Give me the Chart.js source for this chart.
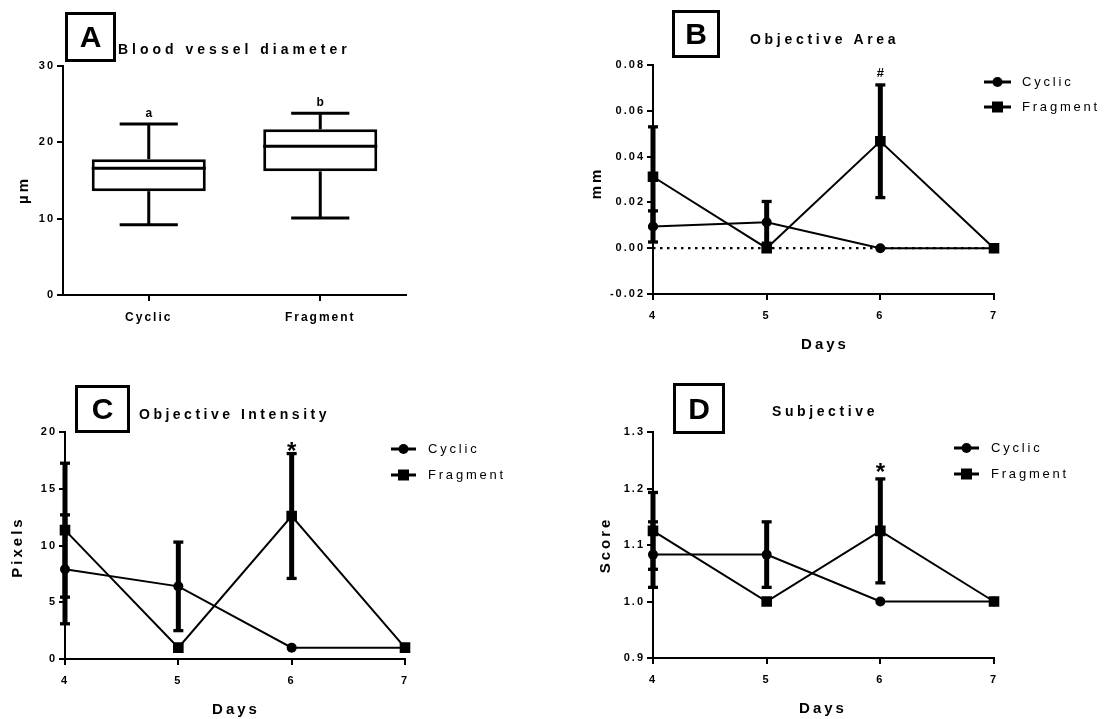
<!DOCTYPE html>
<html lang="en">
<head>
<meta charset="UTF-8">
<title>Blood vessel diameter and scores</title>
<script src="https://cdn.jsdelivr.net/npm/chart.js"></script>
<style>
  body { margin: 0; background: #fff; font-family: 'Liberation Sans', Arial, sans-serif; color: #000; }
  #page { position: relative; width: 1104px; height: 719px; overflow: hidden; }
  canvas { position: absolute; }
  .letter {
    position: absolute; box-sizing: border-box; border: 3px solid #000;
    font-weight: bold; font-size: 30px; line-height: 1;
    display: flex; align-items: center; justify-content: center;
  }
  .ptitle {
    position: absolute; font-weight: bold; font-size: 14px; line-height: 1;
    white-space: nowrap; transform: translateY(-50%);
  }
  .axt {
    position: absolute; font-weight: bold; font-size: 15px; letter-spacing: 3px; line-height: 1;
    white-space: nowrap; transform: translate(-50%, -50%);
  }
  .axt.rot { transform: translate(-50%, -50%) rotate(-90deg); }
</style>
</head>
<body>
<div id="page">
  <canvas id="chartA" width="420" height="340" style="left:0;top:0"></canvas>
  <canvas id="chartB" width="544" height="360" style="left:560px;top:0"></canvas>
  <canvas id="chartC" width="540" height="349" style="left:0;top:370px"></canvas>
  <canvas id="chartD" width="544" height="349" style="left:560px;top:370px"></canvas>

  <div class="letter" style="left:65px;top:12px;width:51px;height:50px">A</div>
  <div class="letter" style="left:672px;top:10px;width:48px;height:48px">B</div>
  <div class="letter" style="left:75px;top:385px;width:55px;height:48px">C</div>
  <div class="letter" style="left:673px;top:383px;width:52px;height:51px">D</div>

  <div class="ptitle" style="left:118px;top:49px;letter-spacing:4px">Blood vessel diameter</div>
  <div class="ptitle" style="left:750px;top:39px;letter-spacing:3.7px">Objective Area</div>
  <div class="ptitle" style="left:139px;top:414px;letter-spacing:3.5px">Objective Intensity</div>
  <div class="ptitle" style="left:772px;top:411px;letter-spacing:3.6px">Subjective</div>

  <div class="axt rot" style="left:22px;top:190px">µm</div>
  <div class="axt rot" style="left:595px;top:183px">mm</div>
  <div class="axt" style="left:825px;top:343px">Days</div>
  <div class="axt rot" style="left:16px;top:547px">Pixels</div>
  <div class="axt" style="left:236px;top:708px">Days</div>
  <div class="axt rot" style="left:604px;top:545px">Score</div>
  <div class="axt" style="left:823px;top:707px">Days</div>
</div>

<script>
// panel A - box plot
const boxGroups = ['Cyclic', 'Fragment'];
const boxMin = [9.2, 10.1];
const boxQ1 = [13.6, 16.2];
const boxMedian = [16.6, 19.5];
const boxQ3 = [17.8, 21.7];
const boxMax = [22.4, 23.8];
const boxLetters = ['a', 'b'];
const diameterTicks = [0, 10, 20, 30];

// panels B, C, D - shared x
const days = ['4', '5', '6', '7'];
const seriesNames = ['Cyclic', 'Fragment'];

// B - objective area
const areaCyclic = [0.0095, 0.0113, 0, 0];
const areaCyclicErr = [0.0068, 0.0091, 0, 0];
const areaFragment = [0.0312, 0, 0.0467, 0];
const areaFragmentErr = [0.0218, 0, 0.0246, 0];
const areaMarks = ['', '', '#', ''];
const areaTicks = [-0.02, 0, 0.02, 0.04, 0.06, 0.08];

// C - objective intensity
const intCyclic = [7.9, 6.4, 1.0, 1.0];
const intCyclicErr = [4.8, 3.9, 0, 0];
const intFragment = [11.35, 1.0, 12.6, 1.0];
const intFragmentErr = [5.9, 0, 5.5, 0];
const intMarks = ['', '', '*', ''];
const intTicks = [0, 5, 10, 15, 20];

// D - subjective score
const subCyclic = [1.083, 1.083, 1.0, 1.0];
const subCyclicErr = [0.058, 0.058, 0, 0];
const subFragment = [1.125, 1.0, 1.125, 1.0];
const subFragmentErr = [0.068, 0, 0.092, 0];
const subMarks = ['', '', '*', ''];
const subTicks = [0.9, 1.0, 1.1, 1.2, 1.3];

Chart.defaults.font.family = "'Liberation Sans', Arial, sans-serif";
Chart.defaults.font.weight = 'bold';
Chart.defaults.font.size = 11;
Chart.defaults.color = '#000';

function strokeLine(ctx, x1, y1, x2, y2) {
    ctx.beginPath();
    ctx.moveTo(x1, y1);
    ctx.lineTo(x2, y2);
    ctx.stroke();
}

const panelPlugin = {
    id: 'panel',
    beforeDraw(chart) {
        chart.ctx.letterSpacing = '2px';
    },
    beforeDatasetsDraw(chart, args, opts) {
        const ctx = chart.ctx;
        const ys = chart.scales.y;
        if (opts.zeroLine) {
            const y = ys.getPixelForValue(0);
            ctx.save();
            ctx.setLineDash([2.5, 4.5]);
            ctx.lineWidth = 2.2;
            ctx.strokeStyle = '#000';
            strokeLine(ctx, chart.chartArea.left, y, chart.chartArea.right, y);
            ctx.restore();
        }
        // error bars (mean +/- error)
        chart.data.datasets.forEach((ds, di) => {
            if (!ds.errors) return;
            const meta = chart.getDatasetMeta(di);
            ds.data.forEach((v, i) => {
                const e = ds.errors[i];
                if (!e) return;
                const x = meta.data[i].x;
                const yt = ys.getPixelForValue(v + e);
                const yb = ys.getPixelForValue(v - e);
                ctx.save();
                ctx.strokeStyle = '#000';
                ctx.lineWidth = 5;
                strokeLine(ctx, x, yt, x, yb);
                ctx.lineWidth = 3.3;
                strokeLine(ctx, x - 5, yt, x + 5, yt);
                strokeLine(ctx, x - 5, yb, x + 5, yb);
                ctx.restore();
            });
        });
    },
    afterDatasetsDraw(chart, args, opts) {
        const ctx = chart.ctx;
        const ys = chart.scales.y;
        chart.data.datasets.forEach((ds, di) => {
            const meta = chart.getDatasetMeta(di);
            // box plot whiskers + medians
            if (ds.stats) {
                ctx.save();
                ctx.strokeStyle = '#000';
                ctx.lineWidth = 3;
                meta.data.forEach((el, i) => {
                    const half = el.width / 2;
                    const yMed = ys.getPixelForValue(ds.stats.median[i]);
                    const yMax = ys.getPixelForValue(ds.stats.max[i]);
                    const yMin = ys.getPixelForValue(ds.stats.min[i]);
                    const capHalf = half * 0.51;
                    strokeLine(ctx, el.x - half, yMed, el.x + half, yMed);
                    strokeLine(ctx, el.x, el.y, el.x, yMax);
                    strokeLine(ctx, el.x, el.base, el.x, yMin);
                    strokeLine(ctx, el.x - capHalf, yMax, el.x + capHalf, yMax);
                    strokeLine(ctx, el.x - capHalf, yMin, el.x + capHalf, yMin);
                    if (ds.stats.letters) {
                        ctx.font = "bold 12px 'Liberation Sans', Arial, sans-serif";
                        ctx.letterSpacing = '0px';
                        ctx.fillStyle = '#000';
                        ctx.textAlign = 'center';
                        ctx.textBaseline = 'alphabetic';
                        ctx.fillText(ds.stats.letters[i], el.x, yMax - 7);
                    }
                });
                ctx.restore();
            }
            // significance marks above error bars
            if (ds.marks) {
                ctx.save();
                ctx.fillStyle = '#000';
                ctx.textAlign = 'center';
                ctx.textBaseline = 'alphabetic';
                ctx.letterSpacing = '0px';
                ds.marks.forEach((m, i) => {
                    if (!m) return;
                    const top = ys.getPixelForValue(ds.data[i] + (ds.errors ? ds.errors[i] : 0));
                    ctx.font = (m === '*' ? 'bold 24px' : 'bold 13px') + " 'Liberation Sans', Arial, sans-serif";
                    ctx.fillText(m, meta.data[i].x, top + opts.markOffset);
                });
                ctx.restore();
            }
        });
        // legend: line + marker + label
        if (opts.legend) {
            const lg = opts.legend;
            ctx.save();
            ctx.strokeStyle = '#000';
            ctx.fillStyle = '#000';
            chart.data.datasets.forEach((ds, di) => {
                const y = lg.ys[di];
                const mx = (lg.x1 + lg.x2) / 2;
                ctx.lineWidth = 3;
                strokeLine(ctx, lg.x1, y, lg.x2, y);
                ctx.beginPath();
                if (ds.pointStyle === 'rect') {
                    ctx.rect(mx - 5.5, y - 5.5, 11, 11);
                } else {
                    ctx.arc(mx, y, 5, 0, Math.PI * 2);
                }
                ctx.fill();
                ctx.font = "13px 'Liberation Sans', Arial, sans-serif";
                ctx.letterSpacing = '2.8px';
                ctx.textAlign = 'left';
                ctx.textBaseline = 'middle';
                ctx.fillText(ds.label, lg.tx, y);
            });
            ctx.restore();
        }
    }
};

function yAxis(ticks, decimals, width, fontSize) {
    return {
        min: ticks[0],
        max: ticks[ticks.length - 1],
        afterBuildTicks: s => { s.ticks = ticks.map(v => ({ value: v })); },
        afterFit: s => { s.width = width; },
        ticks: {
            padding: 2,
            font: { size: fontSize, weight: 'bold' },
            callback: v => Number(v).toFixed(decimals)
        },
        grid: { drawOnChartArea: false, drawTicks: true, tickLength: 6, color: '#000', lineWidth: 2 },
        border: { color: '#000', width: 2 }
    };
}

function xAxis(height, fontSize, padding, isBar) {
    return {
        afterFit: s => { s.height = height; },
        ticks: { padding: padding, font: { size: fontSize, weight: 'bold' }, maxRotation: 0 },
        grid: { drawOnChartArea: false, drawTicks: true, tickLength: 6, color: '#000', lineWidth: 2, offset: false },
        border: { color: '#000', width: 2 },
        offset: isBar
    };
}

function lineSet(label, values, errors, style, marks) {
    return {
        label: label,
        data: values,
        errors: errors,
        marks: marks,
        borderColor: '#000',
        borderWidth: 2,
        pointStyle: style,
        pointRadius: style === 'rect' ? 7.5 : 5,
        pointBackgroundColor: '#000',
        pointBorderColor: '#000',
        pointBorderWidth: 0,
        tension: 0,
        fill: false
    };
}

const baseOptions = {
    responsive: false,
    animation: false,
    devicePixelRatio: 1,
    events: []
};

// A
new Chart(document.getElementById('chartA'), {
    type: 'bar',
    data: {
        labels: boxGroups,
        datasets: [{
            data: boxGroups.map((g, i) => [boxQ1[i], boxQ3[i]]),
            stats: { min: boxMin, median: boxMedian, max: boxMax, letters: boxLetters },
            backgroundColor: '#fff',
            borderColor: '#000',
            borderWidth: 3,
            borderSkipped: false,
            barPercentage: 0.665,
            categoryPercentage: 1
        }]
    },
    options: Object.assign({}, baseOptions, {
        layout: { padding: { left: 0, top: 66, right: 14, bottom: 0 } },
        scales: {
            x: Object.assign(xAxis(45, 12, 9, true), { ticks: { padding: 9, font: { size: 12, weight: 'bold' } } }),
            y: yAxis(diameterTicks, 0, 63, 11)
        },
        plugins: { legend: { display: false }, tooltip: { enabled: false }, panel: {} }
    }),
    plugins: [panelPlugin]
});

function daysChart(id, cyc, cycErr, frag, fragErr, marks, ticks, decimals, pad, xH, legend, markOffset, zeroLine) {
    new Chart(document.getElementById(id), {
        type: 'line',
        data: {
            labels: days,
            datasets: [
                lineSet(seriesNames[0], cyc, cycErr, 'circle', null),
                lineSet(seriesNames[1], frag, fragErr, 'rect', marks)
            ]
        },
        options: Object.assign({}, baseOptions, {
            layout: { padding: { left: 0, top: pad.top, right: pad.right, bottom: 0 } },
            scales: {
                x: xAxis(xH, 11, 9, false),
                y: yAxis(ticks, decimals, pad.left, 11)
            },
            plugins: {
                legend: { display: false },
                tooltip: { enabled: false },
                panel: { legend: legend, markOffset: markOffset, zeroLine: zeroLine }
            }
        }),
        plugins: [panelPlugin]
    });
}

daysChart('chartB', areaCyclic, areaCyclicErr, areaFragment, areaFragmentErr, areaMarks, areaTicks, 2,
    { left: 93, top: 65, right: 110 }, 66, { x1: 424, x2: 451, tx: 462, ys: [82, 107] }, -8, true);
daysChart('chartC', intCyclic, intCyclicErr, intFragment, intFragmentErr, intMarks, intTicks, 0,
    { left: 65, top: 62, right: 135 }, 60, { x1: 391, x2: 416, tx: 428, ys: [79, 105] }, 5.5, false);
daysChart('chartD', subCyclic, subCyclicErr, subFragment, subFragmentErr, subMarks, subTicks, 1,
    { left: 93, top: 62, right: 110 }, 61, { x1: 394, x2: 419, tx: 431, ys: [78, 104] }, 1.5, false);
</script>
</body>
</html>
